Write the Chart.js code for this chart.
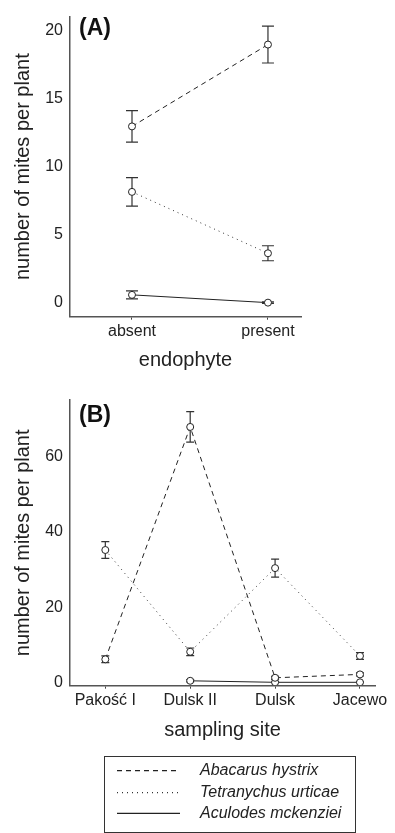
<!DOCTYPE html>
<html>
<head>
<meta charset="utf-8">
<script src="https://cdn.jsdelivr.net/npm/chart.js@4.4.1/dist/chart.umd.min.js"></script>
<style>
  html, body { margin: 0; padding: 0; background: #fff; }
  #wrap { position: relative; width: 395px; height: 833px; }
  canvas { position: absolute; left: 0; }
  #chartA { top: 0; }
  #chartB { top: 375px; }
</style>
</head>
<body>
<div id="wrap">
  <canvas id="chartA" width="395" height="375"></canvas>
  <canvas id="chartB" width="395" height="458"></canvas>
</div>
<script>
const species = ['Abacarus hystrix', 'Tetranychus urticae', 'Aculodes mckenziei'];

// (A) endophyte
const endophyte = ['absent', 'present'];
const yTicksA = [0, 5, 10, 15, 20];
const abacarusA = [12.95, 18.95];
const abacarusErrA = [1.15, 1.35];
const tetranychusA = [8.15, 3.65];
const tetranychusErrA = [1.05, 0.55];
const aculodesA = [0.6, 0.03];
const aculodesErrA = [0.3, 0.05];

// (B) sampling site
const sites = ['Pakość I', 'Dulsk II', 'Dulsk', 'Jacewo'];
const yTicksB = [0, 20, 40, 60];
const abacarusB = [6.2, 67.85, 1.3, 2.2];
const abacarusErrB = [0.9, 4.05, 0.4, 0.4];
const tetranychusB = [35.2, 8.2, 30.4, 7.1];
const tetranychusErrB = [2.2, 1.0, 2.4, 0.9];
const aculodesB = [null, 0.5, 0.1, 0.1];
const aculodesErrB = [0, 0.3, 0.1, 0.1];

const ink = '#222';
const dashes = [[5, 4], [1, 4], []];

Chart.defaults.font.family = "'Liberation Sans', Arial, sans-serif";
Chart.defaults.color = ink;

function makeDatasets(series, errs) {
  return series.map((vals, s) => ({
    label: species[s],
    data: vals.map((v, i) => ({ x: i, y: v })),
    errors: errs[s],
    borderColor: s == 1 ? '#333' : ink,
    borderWidth: 1,
    borderDash: dashes[s],
    pointRadius: 3.5,
    pointBackgroundColor: '#fff',
    pointBorderColor: ink,
    pointBorderWidth: 1,
    tension: 0
  }));
}

// error bars drawn under the markers
const errorBars = {
  id: 'errorBars',
  beforeDatasetsDraw(chart, args, opts) {
    const { ctx, scales: { x, y } } = chart;
    ctx.save();
    ctx.strokeStyle = '#333';
    ctx.lineWidth = 1.2;
    chart.data.datasets.forEach(ds => {
      ds.data.forEach((p, i) => {
        if (p.y == null) return;
        const e = ds.errors[i];
        const px = x.getPixelForValue(p.x);
        const top = y.getPixelForValue(p.y + e);
        const bot = y.getPixelForValue(p.y - e);
        ctx.beginPath();
        ctx.moveTo(px, top); ctx.lineTo(px, bot);
        ctx.moveTo(px - opts.cap, top); ctx.lineTo(px + opts.cap, top);
        ctx.moveTo(px - opts.cap, bot); ctx.lineTo(px + opts.cap, bot);
        ctx.stroke();
      });
    });
    ctx.restore();
  }
};

const panelLabel = {
  id: 'panelLabel',
  afterDraw(chart, args, opts) {
    const { ctx, chartArea } = chart;
    ctx.save();
    ctx.font = "bold 23px 'Liberation Sans', Arial, sans-serif";
    ctx.fillStyle = '#111';
    ctx.textBaseline = 'middle';
    ctx.fillText(opts.text, chartArea.left + 9, chartArea.top + opts.dy);
    ctx.restore();
  }
};

// boxed legend under panel B
const boxLegend = {
  id: 'boxLegend',
  afterDraw(chart, args, opts) {
    if (!opts.show) return;
    const { ctx } = chart;
    const b = opts.box;
    ctx.save();
    ctx.strokeStyle = '#333';
    ctx.lineWidth = 1;
    ctx.strokeRect(b.left, b.top, b.right - b.left, b.bottom - b.top);
    ctx.font = "italic 16px 'Liberation Sans', Arial, sans-serif";
    ctx.fillStyle = ink;
    ctx.textBaseline = 'middle';
    chart.data.datasets.forEach((ds, i) => {
      const yy = b.rows[i];
      ctx.beginPath();
      ctx.setLineDash(ds.borderDash);
      ctx.strokeStyle = ds.borderColor;
      ctx.lineWidth = 1.2;
      ctx.moveTo(b.lineFrom, yy);
      ctx.lineTo(b.lineTo, yy);
      ctx.stroke();
      ctx.setLineDash([]);
      ctx.fillText(ds.label, b.textX, yy);
    });
    ctx.restore();
  }
};

function makeOptions(cfg) {
  return {
    responsive: false,
    animation: false,
    layout: { padding: cfg.pad },
    plugins: {
      legend: { display: false },
      tooltip: { enabled: false },
      errorBars: { cap: cfg.cap },
      panelLabel: { text: cfg.panel, dy: cfg.panelDy },
      boxLegend: cfg.legend || { show: false }
    },
    scales: {
      x: {
        type: 'linear',
        min: cfg.xMin,
        max: cfg.xMax,
        afterBuildTicks: s => { s.ticks = cfg.labels.map((_, i) => ({ value: i })); },
        afterFit: s => { s.height = cfg.xHeight; },
        ticks: {
          callback: v => cfg.labels[v],
          font: { size: 16 },
          padding: 2,
          maxRotation: 0,
          autoSkip: false
        },
        grid: { display: true, drawOnChartArea: false, drawTicks: true, tickLength: 3, color: '#444' },
        border: { display: true, color: '#555', width: 1.5 },
        title: { display: true, text: cfg.xTitle, font: { size: 20 }, padding: { top: 0, bottom: 3 } }
      },
      y: {
        min: cfg.yMin,
        max: cfg.yMax,
        afterBuildTicks: s => { s.ticks = cfg.yTicks.map(v => ({ value: v })); },
        afterFit: s => { s.width = 70; },
        ticks: { font: { size: 16 }, padding: 7 },
        grid: { display: false, drawTicks: false },
        border: { display: true, color: '#555', width: 1.5 },
        title: { display: true, text: 'number of mites per plant', font: { size: 20 }, padding: { top: 11, bottom: 0 } }
      }
    }
  };
}

new Chart(document.getElementById('chartA'), {
  type: 'line',
  data: {
    datasets: makeDatasets([abacarusA, tetranychusA, aculodesA], [abacarusErrA, tetranychusErrA, aculodesErrA])
  },
  options: makeOptions({
    pad: { left: 0, top: 7, right: 94, bottom: 0 },
    labels: endophyte, xMin: -0.456, xMax: 1.243, xHeight: 58.3, xTitle: 'endophyte',
    yMin: -1, yMax: 21, yTicks: yTicksA,
    cap: 6, panel: '(A)', panelDy: 12.5
  }),
  plugins: [errorBars, panelLabel, boxLegend]
});

new Chart(document.getElementById('chartB'), {
  type: 'line',
  data: {
    datasets: makeDatasets([abacarusB, tetranychusB, aculodesB], [abacarusErrB, tetranychusErrB, aculodesErrB])
  },
  options: makeOptions({
    pad: { left: 0, top: 25, right: 20, bottom: 88 },
    labels: sites, xMin: -0.416, xMax: 3.177, xHeight: 59.3, xTitle: 'sampling site',
    yMin: -0.8, yMax: 75, yTicks: yTicksB,
    cap: 4, panel: '(B)', panelDy: 15.5,
    legend: {
      show: true,
      box: { left: 104.5, top: 381.5, right: 355.5, bottom: 457.5, lineFrom: 117, lineTo: 180, textX: 200, rows: [395.7, 417.7, 438.3] }
    }
  }),
  plugins: [errorBars, panelLabel, boxLegend]
});
</script>
</body>
</html>
